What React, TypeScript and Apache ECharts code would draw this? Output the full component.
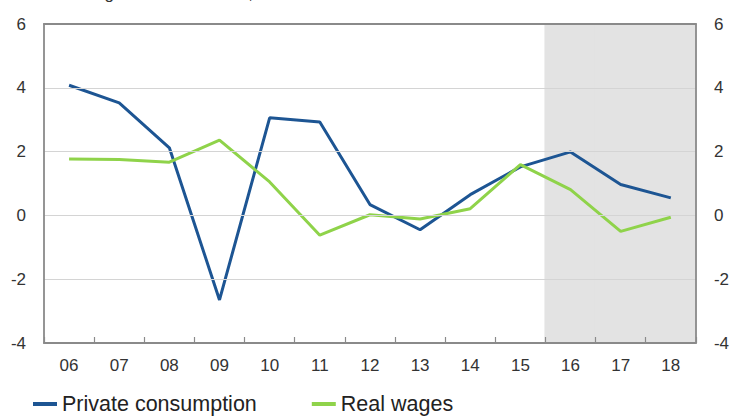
import React, { useEffect, useRef } from "react";
import * as echarts from "echarts";

const categories = ["06", "07", "08", "09", "10", "11", "12", "13", "14", "15", "16", "17", "18"];
const privateConsumption = [4.08, 3.53, 2.12, -2.65, 3.06, 2.93, 0.34, -0.45, 0.65, 1.52, 1.99, 0.97, 0.55];
const realWages = [1.77, 1.75, 1.67, 2.36, 1.05, -0.62, 0.02, -0.11, 0.21, 1.59, 0.81, -0.5, -0.06];
const forecastShade = ["-", "-", "-", "-", "-", "-", "-", "-", "-", "-", 1, 1, 1];
const yTicks = { min: -4, max: 6, interval: 2 };
const titleText = "Annual change in volume terms, %";

const FONT = "'Liberation Sans', Arial, sans-serif";
const FRAME = "#8a8a8a";

export default function App() {
  const ref = useRef<HTMLDivElement>(null);
  useEffect(() => {
    if (!ref.current) return;
    const chart = echarts.init(ref.current, null, { renderer: "svg" });
    chart.setOption({
      animation: false,
      backgroundColor: "#ffffff",
      textStyle: { fontFamily: FONT },
      graphic: [
        {
          type: "text",
          left: 10,
          top: -15,
          silent: true,
          style: { text: titleText, fontSize: 17, fontFamily: FONT, fill: "#333333" },
        },
      ],
      grid: {
        left: 44,
        right: 35,
        top: 24,
        bottom: 73,
      },
      legend: {
        data: ["Private consumption", "Real wages"],
        left: 28,
        top: 388,
        icon: "rect",
        itemWidth: 24,
        itemHeight: 4,
        itemGap: 55,
        textStyle: { fontSize: 21.5, color: "#222222", fontFamily: FONT },
      },
      xAxis: [
        {
          type: "category",
          data: categories,
          boundaryGap: true,
          position: "bottom",
          axisLine: { show: true, onZero: false, lineStyle: { color: FRAME, width: 1.8 } },
          axisTick: { show: true, inside: true, length: 6, lineStyle: { color: FRAME, width: 1.2 } },
          axisLabel: { fontSize: 17, color: "#333333", margin: 14, fontFamily: FONT },
          splitLine: { show: false },
          z: 5,
        },
        {
          type: "category",
          data: categories,
          boundaryGap: true,
          position: "top",
          axisLine: { show: true, onZero: false, lineStyle: { color: FRAME, width: 1.8 } },
          axisTick: { show: false },
          axisLabel: { show: false },
          splitLine: { show: false },
          z: 5,
        },
      ],
      yAxis: [
        {
          type: "value",
          position: "left",
          min: yTicks.min,
          max: yTicks.max,
          interval: yTicks.interval,
          axisLine: { show: true, onZero: false, lineStyle: { color: FRAME, width: 1.8 } },
          axisTick: { show: false },
          axisLabel: { fontSize: 17, color: "#333333", margin: 18, fontFamily: FONT },
          splitLine: { show: true, lineStyle: { color: "#d4d4d4", width: 1 } },
          z: 5,
        },
        {
          type: "value",
          position: "right",
          min: yTicks.min,
          max: yTicks.max,
          interval: yTicks.interval,
          axisLine: { show: true, onZero: false, lineStyle: { color: FRAME, width: 1.8 } },
          axisTick: { show: false },
          axisLabel: { fontSize: 17, color: "#333333", margin: 18, fontFamily: FONT },
          splitLine: { show: false },
          z: 5,
        },
        {
          type: "value",
          min: 0,
          max: 1,
          show: false,
          splitLine: { show: false },
        },
      ],
      series: [
        {
          name: "Forecast",
          type: "bar",
          yAxisIndex: 2,
          data: forecastShade,
          barWidth: "104%",
          barCategoryGap: 0,
          itemStyle: { color: "#e3e3e3" },
          silent: true,
          clip: true,
          z: 0,
        },
        {
          name: "Private consumption",
          type: "line",
          data: privateConsumption,
          showSymbol: false,
          symbol: "none",
          lineStyle: { color: "#1d5593", width: 3 },
          itemStyle: { color: "#1d5593" },
          z: 3,
        },
        {
          name: "Real wages",
          type: "line",
          data: realWages,
          showSymbol: false,
          symbol: "none",
          lineStyle: { color: "#8fd34a", width: 3 },
          itemStyle: { color: "#8fd34a" },
          z: 4,
        },
      ],
    });
    return () => chart.dispose();
  }, []);
  return <div ref={ref} style={{ width: 732, height: 416, position: "fixed", left: 0, top: 0 }} />;
}
